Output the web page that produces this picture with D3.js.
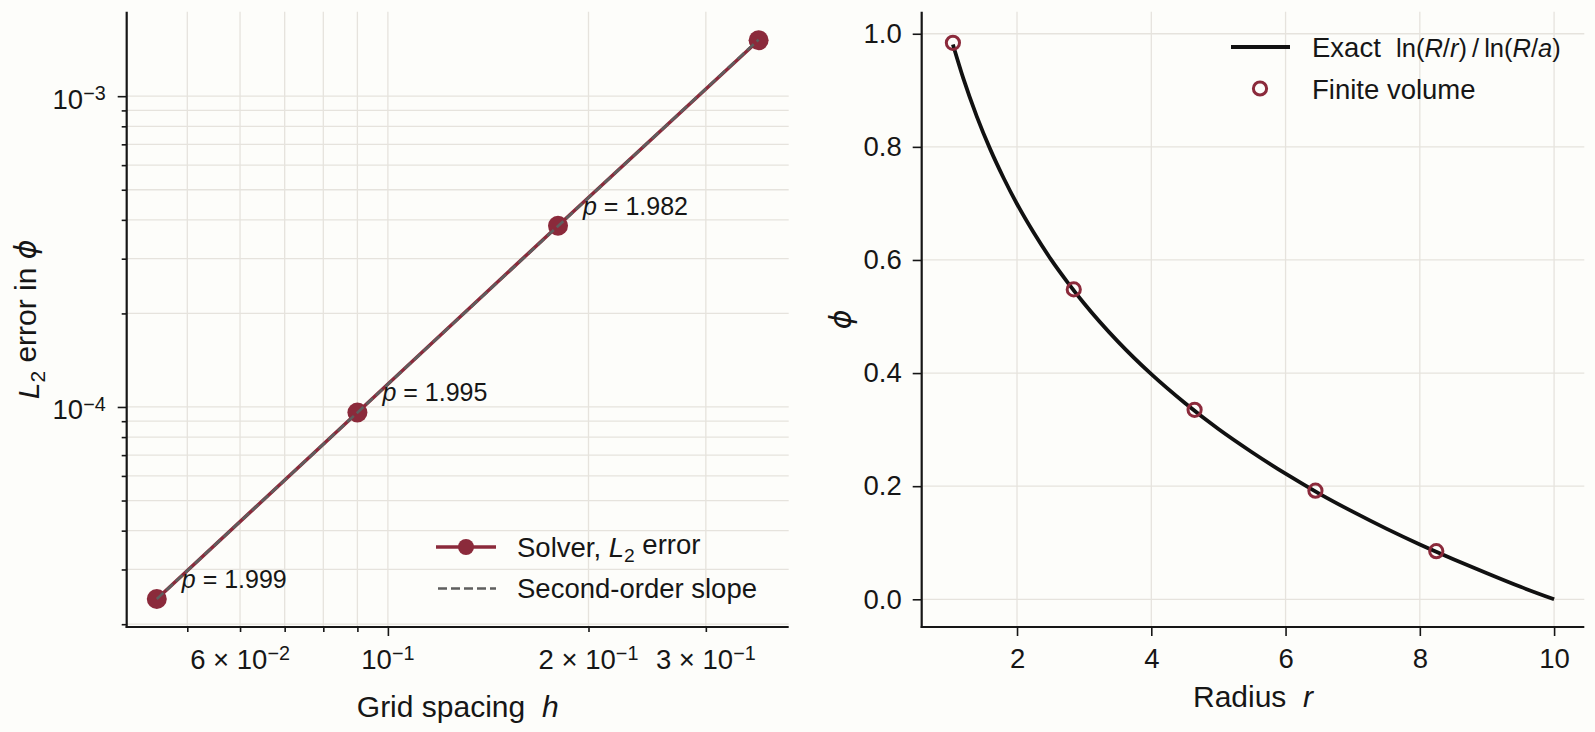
<!DOCTYPE html>
<html>
<head>
<meta charset="utf-8">
<script src="https://cdn.jsdelivr.net/npm/d3@7"></script>
<style>
  body { margin: 0; background: #fdfdfa; }
  svg { display: block; font-family: "Liberation Sans", Arial, sans-serif; }
</style>
</head>
<body>
<div id="chart"></div>
<script>
// convergence study (left panel)
const gridSpacing = [0.045, 0.09, 0.18, 0.36];
const l2Error = [2.41e-5, 9.6e-5, 3.83e-4, 1.513e-3];
const orderLabels = ['1.999', '1.995', '1.982'];
const slopeH = [0.045, 0.36];
const slopeErr = [2.41e-5, 1.52e-3];
const hTicks = [0.06, 0.1, 0.2, 0.3];
const hTickLabels = [['6 × 10', '−2'], ['10', '−1'], ['2 × 10', '−1'], ['3 × 10', '−1']];
const hMinor = [0.05, 0.07, 0.08, 0.09];
const errTicks = [1e-4, 1e-3];
const errTickLabels = [['10', '−4'], ['10', '−3']];
const errMinor = [2e-5, 3e-5, 4e-5, 5e-5, 6e-5, 7e-5, 8e-5, 9e-5,
                  2e-4, 3e-4, 4e-4, 5e-4, 6e-4, 7e-4, 8e-4, 9e-4];

// radial profile (right panel)
const radiusExact = [1.045, 1.2, 1.4, 1.6, 1.8, 2.0, 2.25, 2.5, 2.75, 3.0, 3.5, 4.0, 4.5,
                     5.0, 5.5, 6.0, 6.5, 7.0, 7.5, 8.0, 8.5, 9.0, 9.5, 10.0];
const phiExact = [0.981, 0.921, 0.854, 0.796, 0.745, 0.699, 0.648, 0.602, 0.561, 0.523, 0.456, 0.398, 0.347,
                  0.301, 0.260, 0.222, 0.187, 0.155, 0.125, 0.097, 0.071, 0.046, 0.022, 0.0];
const radiusFV = [1.045, 2.845, 4.645, 6.445, 8.245];
const phiFV = [0.984, 0.548, 0.335, 0.192, 0.085];
const rTicks = [2, 4, 6, 8, 10];
const phiTicks = [0, 0.2, 0.4, 0.6, 0.8, 1.0];

const width = 1595, height = 732;
const red = '#8b2a3b', ink = '#161616', gridColor = '#e6e3dd', dashGrey = '#5e5e5e';
const tickFont = 27.5, labelFont = 30, mathFont = 25.5;

const svg = d3.select('#chart').append('svg')
  .attr('width', width).attr('height', height);

function padLog(vals) {
  const lo = Math.log10(d3.min(vals)), hi = Math.log10(d3.max(vals));
  const p = (hi - lo) * 0.05;
  return [Math.pow(10, lo - p), Math.pow(10, hi + p)];
}

function styleTicks(g) {
  g.select('.domain').remove();
  g.selectAll('.tick line').attr('stroke', ink).attr('stroke-width', 1.6);
  g.selectAll('.tick text').attr('fill', ink).attr('font-size', tickFont);
}

// text with a superscript part, e.g. 10^-3
function supText(sel, base, sup) {
  sel.append('tspan').text(base);
  sel.append('tspan').attr('dy', '-0.45em').attr('font-size', '0.72em').text(sup);
}

// ---------- left panel ----------
const L = { x0: 126.7, x1: 788.7, y0: 11.7, y1: 627 };
const xL = d3.scaleLog().domain(padLog(gridSpacing)).range([L.x0, L.x1]);
const yL = d3.scaleLog().domain(padLog(l2Error.concat(slopeErr))).range([L.y1, L.y0]);

const gl = svg.append('g');

// grid on major + minor
gl.selectAll('.vgrid').data(hTicks.concat(hMinor)).join('line')
  .attr('x1', d => xL(d)).attr('x2', d => xL(d))
  .attr('y1', L.y0).attr('y2', L.y1)
  .attr('stroke', gridColor).attr('stroke-width', 1.3);
gl.selectAll('.hgrid').data(errTicks.concat(errMinor)).join('line')
  .attr('y1', d => yL(d)).attr('y2', d => yL(d))
  .attr('x1', L.x0).attr('x2', L.x1)
  .attr('stroke', gridColor).attr('stroke-width', 1.3);

// x ticks
gl.append('g').attr('transform', `translate(0,${L.y1})`)
  .call(d3.axisBottom(xL).tickValues([0.1]).tickSize(9).tickFormat(''))
  .call(styleTicks);
gl.append('g').attr('transform', `translate(0,${L.y1})`)
  .call(d3.axisBottom(xL).tickValues(hMinor.concat([0.06, 0.2, 0.3])).tickSize(5).tickFormat(''))
  .call(styleTicks);
hTicks.forEach((v, i) => {
  gl.append('text')
    .attr('x', xL(v)).attr('y', L.y1 + 42)
    .attr('text-anchor', 'middle')
    .attr('font-size', tickFont).attr('fill', ink)
    .call(supText, hTickLabels[i][0], hTickLabels[i][1]);
});

// y ticks
gl.append('g').attr('transform', `translate(${L.x0},0)`)
  .call(d3.axisLeft(yL).tickValues(errTicks).tickSize(9).tickFormat(''))
  .call(styleTicks);
gl.append('g').attr('transform', `translate(${L.x0},0)`)
  .call(d3.axisLeft(yL).tickValues(errMinor).tickSize(5).tickFormat(''))
  .call(styleTicks);
errTicks.forEach((v, i) => {
  gl.append('text')
    .attr('x', L.x0 - 21).attr('y', yL(v) + 12.5)
    .attr('text-anchor', 'end')
    .attr('font-size', tickFont).attr('fill', ink)
    .call(supText, errTickLabels[i][0], errTickLabels[i][1]);
});

// spines
gl.append('line').attr('x1', L.x0).attr('x2', L.x0).attr('y1', L.y0).attr('y2', L.y1 + 1)
  .attr('stroke', ink).attr('stroke-width', 2.2);
gl.append('line').attr('x1', L.x0 - 1).attr('x2', L.x1).attr('y1', L.y1).attr('y2', L.y1)
  .attr('stroke', ink).attr('stroke-width', 2.2);

// solver line and markers
const lineL = d3.line().x(d => xL(d[0])).y(d => yL(d[1]));
const solver = d3.zip(gridSpacing, l2Error);
gl.append('path').datum(solver)
  .attr('d', lineL).attr('fill', 'none')
  .attr('stroke', red).attr('stroke-width', 3.6);
gl.selectAll('.pt').data(solver).join('circle')
  .attr('cx', d => xL(d[0])).attr('cy', d => yL(d[1]))
  .attr('r', 10).attr('fill', red);
gl.append('path').datum(d3.zip(slopeH, slopeErr))
  .attr('d', lineL).attr('fill', 'none')
  .attr('stroke', dashGrey).attr('stroke-width', 2.6)
  .attr('stroke-dasharray', '9,4');

// observed order labels
orderLabels.forEach((p, i) => {
  const t = gl.append('text')
    .attr('x', xL(gridSpacing[i]) + 25).attr('y', yL(l2Error[i]) - 11)
    .attr('font-size', 25).attr('fill', ink);
  t.append('tspan').attr('font-style', 'italic').text('p');
  t.append('tspan').text(' = ' + p);
});

// axis labels
const xlabL = gl.append('text')
  .attr('x', (L.x0 + L.x1) / 2).attr('y', 717)
  .attr('text-anchor', 'middle').attr('font-size', labelFont).attr('fill', ink);
xlabL.append('tspan').text('Grid spacing\u00a0\u00a0');
xlabL.append('tspan').attr('font-style', 'italic').text('h');

const ylabL = gl.append('text')
  .attr('transform', `translate(39,${(L.y0 + L.y1) / 2}) rotate(-90)`)
  .attr('text-anchor', 'middle').attr('font-size', labelFont).attr('fill', ink);
ylabL.append('tspan').attr('font-style', 'italic').text('L');
ylabL.append('tspan').attr('dy', '0.3em').attr('font-size', '0.7em').text('2');
ylabL.append('tspan').attr('dy', '-0.3em').text(' error in ');
ylabL.append('tspan').attr('font-style', 'italic').attr('font-family', 'DejaVu Sans').text('ϕ');

// legend
const lgL = gl.append('g');
lgL.append('line').attr('x1', 436).attr('x2', 496).attr('y1', 547).attr('y2', 547)
  .attr('stroke', red).attr('stroke-width', 3.6);
lgL.append('circle').attr('cx', 466).attr('cy', 547).attr('r', 8).attr('fill', red);
const lt1 = lgL.append('text').attr('x', 517).attr('y', 556.5)
  .attr('font-size', tickFont).attr('fill', ink);
lt1.append('tspan').text('Solver, ');
lt1.append('tspan').attr('font-style', 'italic').text('L');
lt1.append('tspan').attr('dy', '0.3em').attr('font-size', '0.7em').text('2');
lt1.append('tspan').attr('dy', '-0.3em').text(' error');
lgL.append('line').attr('x1', 438).attr('x2', 496).attr('y1', 588.5).attr('y2', 588.5)
  .attr('stroke', dashGrey).attr('stroke-width', 2.6).attr('stroke-dasharray', '9,4');
lgL.append('text').attr('x', 517).attr('y', 597.5)
  .attr('font-size', tickFont).attr('fill', ink).text('Second-order slope');

// ---------- right panel ----------
const R = { x0: 921.7, x1: 1584.3, y0: 11.7, y1: 627 };
const xR = d3.scaleLinear().domain([0.58, 10.45]).range([R.x0, R.x1]);
const yR = d3.scaleLinear().domain([-0.049, 1.039]).range([R.y1, R.y0]);

const gr = svg.append('g');

gr.selectAll('.vgrid').data(rTicks).join('line')
  .attr('x1', d => xR(d)).attr('x2', d => xR(d))
  .attr('y1', R.y0).attr('y2', R.y1)
  .attr('stroke', gridColor).attr('stroke-width', 1.3);
gr.selectAll('.hgrid').data(phiTicks).join('line')
  .attr('y1', d => yR(d)).attr('y2', d => yR(d))
  .attr('x1', R.x0).attr('x2', R.x1)
  .attr('stroke', gridColor).attr('stroke-width', 1.3);

gr.append('g').attr('transform', `translate(0,${R.y1})`)
  .call(d3.axisBottom(xR).tickValues(rTicks).tickSize(9).tickPadding(12).tickFormat(d3.format('d')))
  .call(styleTicks);
gr.append('g').attr('transform', `translate(${R.x0},0)`)
  .call(d3.axisLeft(yR).tickValues(phiTicks).tickSize(9).tickPadding(11).tickFormat(d3.format('.1f')))
  .call(styleTicks);

gr.append('line').attr('x1', R.x0).attr('x2', R.x0).attr('y1', R.y0).attr('y2', R.y1 + 1)
  .attr('stroke', ink).attr('stroke-width', 2.2);
gr.append('line').attr('x1', R.x0 - 1).attr('x2', R.x1).attr('y1', R.y1).attr('y2', R.y1)
  .attr('stroke', ink).attr('stroke-width', 2.2);

gr.append('path').datum(d3.zip(radiusExact, phiExact))
  .attr('d', d3.line().x(d => xR(d[0])).y(d => yR(d[1])).curve(d3.curveMonotoneX))
  .attr('fill', 'none').attr('stroke', '#111').attr('stroke-width', 3.8);

gr.selectAll('.fv').data(d3.zip(radiusFV, phiFV)).join('circle')
  .attr('cx', d => xR(d[0])).attr('cy', d => yR(d[1]))
  .attr('r', 6.6).attr('fill', 'none')
  .attr('stroke', red).attr('stroke-width', 3);

const xlabR = gr.append('text')
  .attr('x', (R.x0 + R.x1) / 2).attr('y', 707)
  .attr('text-anchor', 'middle').attr('font-size', labelFont).attr('fill', ink);
xlabR.append('tspan').text('Radius\u00a0\u00a0');
xlabR.append('tspan').attr('font-style', 'italic').text('r');

gr.append('text')
  .attr('transform', `translate(851,${(R.y0 + R.y1) / 2}) rotate(-90)`)
  .attr('text-anchor', 'middle').attr('font-size', labelFont).attr('fill', ink)
  .attr('font-style', 'italic').attr('font-family', 'DejaVu Sans').text('ϕ');

// legend
const lgR = gr.append('g');
lgR.append('line').attr('x1', 1231).attr('x2', 1290).attr('y1', 47).attr('y2', 47)
  .attr('stroke', '#111').attr('stroke-width', 3.8);
const rt1 = lgR.append('text').attr('x', 1312).attr('y', 57)
  .attr('font-size', tickFont).attr('fill', ink);
rt1.append('tspan').text('Exact\u00a0\u00a0');
[['ln(', false], ['R', true], ['/', false], ['r', true], [')\u2009/\u2009ln(', false],
 ['R', true], ['/', false], ['a', true], [')', false]].forEach(([s, it]) => {
  rt1.append('tspan').attr('font-size', mathFont)
    .attr('font-style', it ? 'italic' : null).text(s);
});
lgR.append('circle').attr('cx', 1260).attr('cy', 88.5).attr('r', 6.6)
  .attr('fill', 'none').attr('stroke', red).attr('stroke-width', 3);
lgR.append('text').attr('x', 1312).attr('y', 98.5)
  .attr('font-size', tickFont).attr('fill', ink).text('Finite volume');
</script>
</body>
</html>
